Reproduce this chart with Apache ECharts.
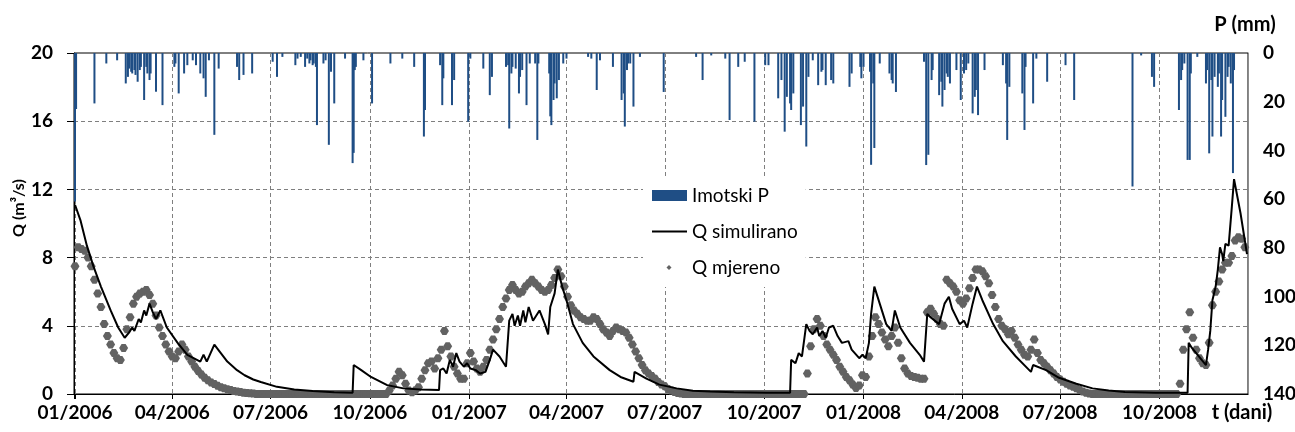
<!DOCTYPE html>
<html>
<head>
<meta charset="utf-8">
<script src="https://cdn.jsdelivr.net/npm/echarts@6/dist/echarts.min.js"></script>
<style>
html,body{margin:0;padding:0;background:#fff;}
#chart{width:1295px;height:432px;}
</style>
</head>
<body>
<div id="chart"></div>
<script>
// ---------- DATA ----------
// day offsets are counted from 1 Jan 2006
const startYear = 2006, startMonth = 0, startDay = 1;
const lastDay = 1085;            // last day shown on the time axis
const qTickStep = 4;             // Q axis 0..20
const pTickStep = 20;            // P axis 0..140 (inverted)

// Imotski daily precipitation P (mm): [day offset, mm]
const rainP = [
[0,61],[1,23],[18,20.7],[29,4.3],[39,3],[47,12.5],[49,9.8],[50,6.4],[52,7.7],[53,8.4],[55,7],[56,9],[58,11.8],[60,7],[61,5.7],[64,19.3],[66,5.7],[67,8.4],[69,11.1],[70,8.4],[75,15.9],[81,21.4],[92,5.7],[93,4.3],[96,16.6],[101,8.4],[104,5],[109,3],[112,5],[116,8.4],[119,10.4],[121,18],[124,3],[129,33.6],[133,6.4],[150,5.7],[152,11.1],[156,9],[164,8.4],
[183,3.6],[187,9.8],[192,1.6],[204,5],[206,2.3],[209,1.6],[213,5.7],[215,2.3],[217,4.3],[218,3],[220,5],[221,4.3],[223,5.7],[224,29.6],[230,4.3],[232,3],[235,37.7],[237,7.7],[240,20.7],[250,2.3],[257,45.2],[258,41],[259,7],[260,5.7],[267,3],[275,20.7],[292,4.3],[303,2.3],[314,5.7],[323,34.3],[324,23.4],[338,5],[340,21.4],[341,10.4],[349,21.4],[351,11.1],[364,28.2],
[366,2.3],[378,6.4],[384,17.3],[386,9.8],[399,5.7],[401,5],[402,31],[404,8.4],[405,5.7],[408,6.4],[411,16.6],[412,9.8],[414,7],[418,21.4],[421,4.3],[426,4.3],[428,35.7],[429,4.3],[439,8.4],[440,26],[441,29.6],[443,19.3],[444,12.5],[446,18.6],[448,11.1],[452,4.3],[455,2.3],[475,1.6],[478,2.3],[483,15.2],[486,3],[498,5.7],[506,19.3],[508,16.6],[509,30.2],[511,7],[512,4.3],[514,4.3],[517,22],[523,1.6],[545,16],
[575,1.6],[581,11.1],[589,1],[602,2.3],[606,27.5],[614,5.7],[620,3.6],[629,28.2],[639,5],[642,5],[651,18.6],[654,11.1],[657,32.3],[659,18],[662,20.7],[663,23.4],[665,16.6],[672,29.6],[674,22],[677,38.4],[679,9.8],[683,3],[688,13.2],[691,7.7],[692,7],[695,13.2],[700,11.1],[702,12.5],[717,13.9],[719,8.4],[727,5.7],
[728,10.4],[730,5.7],[736,7.7],[737,45.9],[739,12.5],[740,39],[745,4.3],[754,8.4],[756,11.1],[757,12.5],[760,16],[786,3.6],[788,46],[790,41.8],[793,11.1],[794,7],[800,17.3],[802,11.8],[803,22],[805,15.2],[807,8.4],[808,9.8],[810,12.5],[816,7],[820,19.3],[823,8.4],[825,7],[827,4.3],[831,24.8],[833,18],[834,15.2],[836,25.5],[842,7],[859,5],[862,12.5],[863,35.7],[865,13.9],[877,16.6],[879,31.6],[880,5.7],[887,20.7],[890,2.3],[900,11.8],[917,5],
[925,19.3],[979,54.8],[987,1],[997,9.8],[999,13.9],[1022,23.4],[1024,11.1],[1025,7],[1027,4.3],[1030,43.9],[1032,43.9],[1033,8.4],[1039,1.6],[1047,12.5],[1048,7],[1050,41.2],[1052,11.1],[1053,34.3],[1055,9.8],[1058,13.9],[1059,8.4],[1061,34.3],[1062,19.3],[1065,26.2],[1067,9.8],[1068,5.7],[1070,12.5],[1072,49.3],[1073,7]
];

// Q simulirano (m3/s): [day offset, Q]
const simQ = [
[0,11.1],[1,11.0],[5,10.2],[11,8.7],[17,7.5],[24,6.3],[33,4.9],[40,3.9],[46,3.3],[50,3.6],[53,3.9],[55,3.7],[59,4.4],[61,4.2],[64,4.9],[66,4.6],[69,5.3],[72,4.8],[75,4.4],[79,4.9],[85,3.9],[95,3.0],[104,2.3],[116,1.9],[119,2.3],[122,1.9],[129,2.9],[135,2.4],[141,1.9],[150,1.4],[157,1.1],[165,0.85],[172,0.7],[187,0.42],[203,0.27],[220,0.17],[240,0.1],[257,0.07],
[258,1.7],[265,1.4],[274,1.0],[289,0.52],[304,0.33],[320,0.26],[337,0.23],[338,1.4],[341,1.5],[344,1.2],[347,2.0],[350,1.6],[353,2.4],[356,1.9],[360,1.6],[363,1.8],[366,1.5],[371,1.4],[375,1.2],[380,1.3],[384,2.0],[387,2.6],[393,2.2],[399,1.6],[402,4.3],[405,4.7],[407,4.0],[410,4.6],[412,4.0],[415,4.9],[417,4.2],[420,5.1],[424,4.3],[430,4.9],[435,4.1],[438,3.5],[440,5.1],[444,5.9],[447,7.3],[451,6.3],[455,5.5],[461,4.1],[470,3.0],[480,2.2],[495,1.4],[505,1.0],[517,0.72],[518,1.3],[529,0.9],[541,0.55],[557,0.33],[572,0.19],[588,0.14],[610,0.1],[640,0.08],[662,0.07],
[663,2.0],[667,1.8],[670,2.4],[673,2.2],[677,4.1],[680,3.7],[683,3.5],[687,3.9],[689,3.4],[692,3.7],[695,3.3],[698,3.9],[702,4.0],[706,3.4],[710,3.0],[716,3.1],[719,2.6],[726,2.1],[729,2.3],[732,2.1],[735,3.0],[737,4.7],[740,6.3],[745,5.3],[751,4.1],[756,3.7],[759,4.9],[764,3.9],[773,3.0],[782,2.3],[786,1.9],[789,4.7],[792,4.5],[800,4.1],[805,5.3],[809,5.7],[812,5.0],[819,4.1],[823,4.3],[826,3.9],[831,5.3],[835,6.3],[840,5.5],[850,4.1],[859,3.1],[871,2.2],[885,1.3],[887,1.7],[899,1.4],[911,0.95],[927,0.6],[942,0.33],[957,0.2],[972,0.12],[1000,0.08],[1030,0.07],
[1031,3.0],[1034,2.7],[1047,1.7],[1049,2.6],[1051,3.7],[1053,5.5],[1056,6.3],[1058,7.3],[1060,8.6],[1062,8.2],[1063,7.8],[1065,8.8],[1068,8.7],[1071,11.0],[1073,12.6],[1076,11.6],[1079,10.6],[1082,9.4],[1085,8.2]
];

// Q mjereno (m3/s), one reading every obsStep days from day 0
const obsStep = 3;
const obsQ = [
7.5,8.6,8.5,8.4,8.0,7.5,6.7,5.9,5.1,4.1,
3.4,2.9,2.4,2.1,2.0,2.7,3.8,4.5,5.3,5.7,
5.9,6.0,6.1,5.8,5.3,4.6,3.9,3.4,2.9,2.5,
2.2,2.1,2.5,2.9,2.6,2.2,1.9,1.6,1.35,1.15,
0.95,0.8,0.68,0.58,0.48,0.4,0.33,0.28,0.23,0.18,
0.14,0.11,0.08,0.06,0.04,0.03,
0,0,0,0,0,0,0,0,0,0,
0,0,0,0,0,0,0,0,0,0,
0,0,0,0,0,0,0,0,0,0,
0,0,0,0,0,0,0,0,0,0,
0,
0.2,0.5,0.9,1.3,1.1,0.6,0.2,0.1,0.2,0.4,
0.9,1.4,1.8,1.9,1.5,2.1,2.6,3.7,2.8,2.2,
1.6,1.2,0.9,0.9,1.8,2.4,1.9,1.5,1.3,1.6,
2.0,2.6,3.2,3.8,4.4,5.1,5.6,6.1,6.4,6.1,
5.9,6.0,6.3,6.5,6.7,6.5,6.3,6.1,6.0,6.1,
6.4,6.8,7.3,6.9,6.3,5.7,5.2,4.9,4.7,4.5,
4.4,4.3,4.3,4.5,4.4,4.1,3.8,3.6,3.4,3.7,
3.9,3.8,3.7,3.6,3.3,2.9,2.5,2.1,1.7,1.4,
1.2,1.05,0.9,0.7,0.55,0.45,0.3,0.2,0.12,0.06,0.03,
0,0,0,0,0,0,0,0,0,0,
0,0,0,0,0,0,0,0,0,0,
0,0,0,0,0,0,0,0,0,0,
0,0,0,0,0,0,0,0,
1.2,2.8,3.8,4.4,4.0,3.4,2.9,2.6,2.3,2.0,
1.6,1.3,1.0,0.8,0.55,0.35,0.5,1.1,1.0,2.2,
3.4,4.5,4.1,3.6,3.2,2.8,3.4,3.9,3.0,2.1,
1.5,1.2,1.05,1.0,0.95,0.9,0.9,
4.8,5.0,4.7,4.4,4.1,4.0,6.7,6.5,6.3,6.0,
5.5,5.3,5.6,6.2,6.8,7.3,7.3,7.2,6.9,6.5,
5.8,5.1,4.4,4.0,3.8,3.5,3.7,3.3,2.9,2.6,
2.3,2.2,2.6,3.2,2.4,2.0,1.8,1.6,1.4,1.2,
1.0,0.85,0.72,0.6,0.5,0.42,0.33,0.24,0.15,0.08,0.03,
0,0,0,0,0,0,0,0,0,0,
0,0,0,0,0,0,0,0,0,0,
0,0,0,0,0,0,0,
0.6,2.6,3.8,4.8,3.3,2.6,2.1,1.8,1.7,3.0,
5.2,6.0,6.6,7.3,7.7,7.7,8.1,9.0,9.2,9.1,8.6
];

// ---------- CHART ----------
const DAY = 86400000;
function dayToTime(d) { return new Date(startYear, startMonth, startDay + d).getTime(); }
function pad2(n) { return (n < 10 ? '0' : '') + n; }

const FONT = 'Lato';
const gridColor = '#7f7f7f';
const obsColor = '#626262';
// marker for measured Q: a slightly flattened diamond so daily-spaced markers merge into a band
const obsSymbol = 'path://M0,3.5L2.2,0L5.8,0L8,3.5L5.8,7L2.2,7Z';
// legend icons (35 x 11 box)
const lineIcon = 'path://M0,0M35,11M0,4.5L35,4.5L35,6.5L0,6.5Z';
const diamondIcon = 'path://M0,0M35,11M17,3L19.5,5.5L17,8L14.5,5.5Z';

const chart = echarts.init(document.getElementById('chart'), null, {renderer: 'canvas'});
chart.setOption({
  animation: false,
  backgroundColor: '#ffffff',
  grid: {
    left: 74, right: 47, top: 53, bottom: 38,
    show: true, borderColor: '#000', borderWidth: 1, backgroundColor: 'transparent',
    containLabel: false, outerBoundsMode: 'none'
  },
  legend: {
    orient: 'vertical',
    left: 643, top: 177,
    padding: [9, 8, 10, 9],
    backgroundColor: '#ffffff',
    itemWidth: 35, itemHeight: 11, itemGap: 17,
    selectedMode: false,
    textStyle: {fontFamily: FONT, fontSize: 19, color: '#000'},
    data: [
      {name: 'Imotski P', icon: 'rect'},
      {name: 'Q simulirano', icon: lineIcon, itemStyle: {color: '#000'}},
      {name: 'Q mjereno', icon: diamondIcon, itemStyle: {color: obsColor, opacity: 1}}
    ]
  },
  xAxis: {
    type: 'time',
    min: dayToTime(0),
    max: dayToTime(lastDay),
    splitNumber: 12,
    minInterval: 90 * DAY,
    maxInterval: 92 * DAY,
    axisLine: {show: true, lineStyle: {color: '#000', width: 1}},
    axisTick: {show: true, length: 5, lineStyle: {color: '#000'}},
    axisLabel: {
      color: '#000', fontFamily: FONT, fontWeight: 'bold', fontSize: 19, margin: 9,
      showMinLabel: true, showMaxLabel: false, hideOverlap: false,
      formatter: function (val) {
        const d = new Date(val);
        if (d.getDate() !== 1 || d.getMonth() % 3 !== 0) return '';
        return pad2(d.getMonth() + 1) + '/' + d.getFullYear();
      }
    },
    splitLine: {show: true, showMinLine: false, showMaxLine: false,
      lineStyle: {color: gridColor, width: 1, type: [4, 3]}}
  },
  yAxis: [
    {
      type: 'value', position: 'left', min: 0, max: 20, interval: qTickStep,
      axisLine: {show: true, lineStyle: {color: '#000', width: 1}},
      axisTick: {show: true, length: 7, lineStyle: {color: '#000'}},
      axisLabel: {color: '#000', fontFamily: FONT, fontWeight: 'bold', fontSize: 19, margin: 21},
      splitLine: {show: true, showMinLine: false, showMaxLine: false,
        lineStyle: {color: gridColor, width: 1, type: [4, 3]}}
    },
    {
      type: 'value', position: 'right', min: 0, max: 140, interval: pTickStep, inverse: true,
      axisLine: {show: true, lineStyle: {color: '#8c8c8c', width: 1}},
      axisTick: {show: false},
      axisLabel: {color: '#000', fontFamily: FONT, fontWeight: 'bold', fontSize: 19, margin: 15},
      splitLine: {show: false}
    }
  ],
  graphic: [
    {type: 'text', x: 19, y: 208, rotation: Math.PI / 2,
     style: {text: 'Q (m³/s)', fontFamily: FONT, fontWeight: 'bold', fontSize: 16, fill: '#000',
             align: 'center', verticalAlign: 'middle'}},
    {type: 'text', x: 1245, y: 25,
     style: {text: 'P (mm)', fontFamily: FONT, fontWeight: 'bold', fontSize: 20, fill: '#000',
             align: 'center', verticalAlign: 'middle'}},
    {type: 'text', x: 1242, y: 413,
     style: {text: 't (dani)', fontFamily: FONT, fontWeight: 'bold', fontSize: 20, fill: '#000',
             align: 'center', verticalAlign: 'middle'}}
  ],
  series: [
    {
      name: 'Imotski P', type: 'bar', xAxisIndex: 0, yAxisIndex: 1,
      barWidth: 2, itemStyle: {color: '#1f4e85'}, z: 2,
      data: rainP.map(function (r) { return [dayToTime(r[0]), r[1]]; })
    },
    {
      name: 'Q mjereno', type: 'scatter', xAxisIndex: 0, yAxisIndex: 0,
      symbol: obsSymbol, symbolSize: [9, 8], itemStyle: {color: obsColor, opacity: 1}, z: 3,
      data: obsQ.map(function (q, k) { return [dayToTime(k * obsStep), q]; })
    },
    {
      name: 'Q simulirano', type: 'line', xAxisIndex: 0, yAxisIndex: 0,
      symbol: 'none', showSymbol: false,
      lineStyle: {color: '#000', width: 2}, itemStyle: {color: '#000'}, z: 4,
      data: simQ.map(function (r) { return [dayToTime(r[0]), r[1]]; })
    }
  ]
});
</script>
</body>
</html>
